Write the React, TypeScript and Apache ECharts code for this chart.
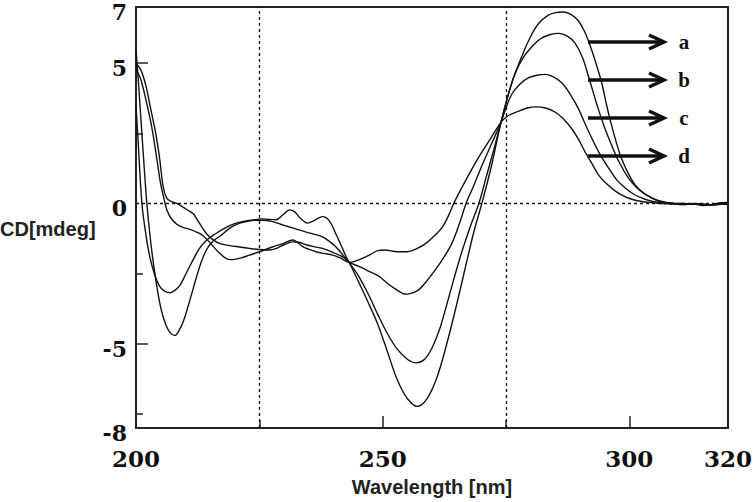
import { useEffect, useRef } from 'react';
import * as echarts from 'echarts';

// Wavelength (nm) / CD (mdeg) pairs
const seriesA: [number, number][] = [
  [200, 5.47], [200.5, 4.3], [201, 3.0], [201.5, 1.7], [202.2, 0.0], [203, -1.4], [204, -2.7], [205, -3.7],
  [206, -4.3], [207, -4.62], [207.9, -4.7], [208.8, -4.5], [209.6, -4.2], [210.5, -3.7], [211.4, -3.15],
  [212.3, -2.6], [213.3, -2.05], [214.3, -1.65], [215.3, -1.4], [216.3, -1.25], [217.5, -1.1], [219, -0.88],
  [221, -0.7], [223, -0.62], [225.7, -0.55], [228.4, -0.58], [229.8, -0.4], [231.1, -0.23], [232.2, -0.3],
  [233.1, -0.49], [234.8, -0.7], [236.2, -0.6], [237.8, -0.47], [239.2, -0.62], [240.5, -1.08], [241.6, -1.5],
  [242.6, -1.9], [243.3, -2.13], [245, -2.75], [247, -3.5], [249, -4.3], [251, -5.3], [253, -6.3], [255, -6.95],
  [257, -7.23], [259, -6.95], [261, -6.2], [263, -5.0], [265, -3.6], [267, -2.1], [268.5, -1.0], [270.1, 0.0],
  [272, 1.3], [274, 2.9], [276, 4.2], [278.2, 5.24], [280, 5.95], [281.6, 6.41], [283.5, 6.7], [285, 6.8],
  [286.7, 6.82], [288.3, 6.72], [289.7, 6.5], [291, 6.1], [292.3, 5.5], [293.4, 4.9], [294.4, 4.3], [295.4, 3.5],
  [296.4, 2.78], [297.4, 2.15], [298.4, 1.61], [299.7, 1.1], [301.1, 0.68], [302.8, 0.38], [304.5, 0.2],
  [306, 0.08], [307.5, 0.03], [309, 0.01], [311, -0.03], [313, 0.0], [315, -0.06], [317, -0.03], [318.5, 0.03],
  [320, 0.04],
];

const seriesB: [number, number][] = [
  [200, 3.5], [200.4, 2.3], [201.2, 0.0], [202, -1.1], [202.8, -1.9], [203.8, -2.55], [204.8, -2.95],
  [205.8, -3.12], [206.9, -3.18], [208, -3.08], [208.9, -2.92], [210, -2.55], [211, -2.2], [211.6, -2.0],
  [212.8, -1.62], [214.3, -1.31], [216.3, -1.06], [218, -0.88], [220, -0.72], [222, -0.63], [223.5, -0.6],
  [225.7, -0.6], [227.5, -0.64], [229.3, -0.74], [231.1, -0.84], [233, -0.94], [234.5, -1.02], [236.2, -1.1],
  [237.8, -1.19], [239.2, -1.35], [240.5, -1.54], [242, -1.85], [243.3, -2.13], [245, -2.55], [247, -3.2],
  [249, -3.95], [251, -4.65], [253, -5.2], [255, -5.55], [256.8, -5.68], [258.5, -5.55], [260, -5.15],
  [261.5, -4.5], [263, -3.6], [264.5, -2.65], [266, -1.75], [267.8, -0.8], [269.5, 0.0], [271, 0.95],
  [272.5, 1.9], [274, 2.9], [275.5, 3.9], [276.9, 4.66], [278.5, 5.2], [280.3, 5.59], [282, 5.87], [284, 6.02],
  [285.7, 6.06], [287.5, 5.95], [289, 5.71], [290.5, 5.2], [291.7, 4.54], [292.7, 3.95], [293.7, 3.37],
  [295, 2.7], [296.4, 2.08], [298, 1.45], [299.8, 0.91], [301.5, 0.56], [303.2, 0.33], [304.8, 0.18],
  [306, 0.1], [307.5, 0.04], [309, 0.0], [311, -0.04], [313, -0.02], [315, -0.07], [317, -0.04], [319, 0.0],
  [320, -0.02],
];

const seriesC: [number, number][] = [
  [200, 5.0], [201, 4.75], [202, 4.2], [203, 3.35], [204, 2.5], [204.8, 1.6], [205.5, 0.6], [206.2, 0.2],
  [207, 0.08], [208, 0.02], [209, -0.07], [209.6, -0.14], [210.6, -0.25], [211.6, -0.37], [212.5, -0.6],
  [213.4, -0.85], [214.3, -1.08], [215.5, -1.28], [217, -1.43], [219, -1.5], [221, -1.55], [223, -1.6],
  [225, -1.64], [227, -1.66], [228.5, -1.6], [230, -1.47], [231.8, -1.37], [233, -1.38], [234.5, -1.47],
  [236, -1.54], [237.8, -1.6], [240, -1.75], [241.9, -1.9], [243.3, -2.1], [245.3, -2.25], [247, -2.4],
  [249.3, -2.6], [251, -2.85], [252.7, -3.06], [254, -3.2], [255, -3.23], [256.2, -3.18], [257.4, -3.06],
  [259, -2.75], [260.7, -2.36], [262.3, -1.95], [264, -1.43], [265.5, -0.75], [266.9, 0.0], [268.5, 0.65],
  [270, 1.3], [272, 2.1], [274, 2.9], [275, 3.4], [276.2, 3.9], [277.8, 4.25], [279.6, 4.48], [281.3, 4.57],
  [283, 4.6], [284.7, 4.5], [286.3, 4.3], [288, 3.9], [289.7, 3.37], [291, 2.85], [292.4, 2.32], [294, 1.77],
  [295.8, 1.26], [297.4, 0.85], [299.1, 0.56], [301, 0.32], [303.2, 0.15], [305, 0.06], [307, 0.02],
  [309, -0.02], [311, -0.04], [313, -0.01], [315, -0.05], [317, -0.06], [319, -0.02], [320, -0.04],
];

const seriesD: [number, number][] = [
  [200, 4.8], [201, 4.4], [202, 3.7], [203, 2.9], [203.6, 2.3], [204.3, 1.5], [205, 0.7], [205.9, 0.0],
  [206.2, -0.2], [207, -0.5], [208.2, -0.73], [209.5, -0.85], [210.9, -0.92], [212.3, -1.02], [213.6, -1.15],
  [215, -1.4], [216, -1.6], [217, -1.78], [218, -1.93], [219, -2.0], [220, -1.99], [221.5, -1.93], [223, -1.84],
  [225, -1.72], [227.5, -1.56], [229.8, -1.43], [231.8, -1.3], [232.8, -1.4], [233.8, -1.54], [235, -1.63],
  [236.5, -1.72], [238, -1.78], [239.9, -1.84], [241.5, -1.95], [243.3, -2.1], [245.3, -2.0], [247.3, -1.84],
  [249, -1.68], [250.5, -1.66], [252, -1.7], [253.5, -1.72], [255, -1.72], [257, -1.6], [258.7, -1.43],
  [260.5, -1.15], [262.1, -0.84], [263.3, -0.45], [264.4, 0.0], [266, 0.55], [268, 1.2], [270, 1.8],
  [272, 2.35], [274, 2.9], [275.2, 3.1], [276.2, 3.19], [278, 3.32], [279.5, 3.41], [281, 3.44], [283, 3.4],
  [285, 3.25], [286.7, 3.0], [288.3, 2.67], [289.7, 2.28], [291, 1.85], [292.4, 1.43], [293.7, 1.03],
  [295.4, 0.7], [297.1, 0.45], [298.8, 0.27], [300.5, 0.15], [302.5, 0.07], [304.5, 0.03], [306.5, 0.0],
  [308.5, -0.02], [310.5, 0.01], [312.5, -0.03], [314.5, -0.01], [316.5, -0.05], [318.5, -0.02], [320, 0.0],
];

const seriesNames = ['a', 'b', 'c', 'd'];
const allSeries = [seriesA, seriesB, seriesC, seriesD];

const xLabelValues = [200, 250, 300, 320];
const xMajorTicks = [250, 300];
const xMinorTicks = [225, 275];
const yLabelValues = [7, 5, 0, -5, -8];
const yMajorTicks = [5, -5];
const yMinorTicks = [2.5, -2.5, -7.5];
const refLinesX = [225, 275];
const refLinesY = [0];

const TICK_FONT = 'DejaVu Serif';
const TITLE_FONT = 'Liberation Sans';

function buildOption() {
  const tickLabelStyle = {
    fontFamily: TICK_FONT,
    fontWeight: 'bold' as const,
    fontSize: 22,
    color: '#111',
  };
  const arrowTop = 42;
  const arrowStep = 38;
  const arrowX0 = 588;
  const arrowX1 = 664;
  const graphics: any[] = [];
  seriesNames.forEach((name, i) => {
    const y = arrowTop + i * arrowStep;
    graphics.push({
      type: 'line',
      shape: { x1: arrowX0, y1: y, x2: arrowX1 - 1, y2: y },
      style: { stroke: '#111', lineWidth: 3.5 },
    });
    graphics.push({
      type: 'polyline',
      shape: { points: [[arrowX1 - 15, y - 7], [arrowX1, y], [arrowX1 - 15, y + 7]] },
      style: { stroke: '#111', lineWidth: 3.5, fill: 'none', lineJoin: 'miter' },
    });
    graphics.push({
      type: 'text',
      x: 684,
      y: y,
      style: {
        text: name,
        font: 'bold 21px "Liberation Serif"',
        fill: '#111',
        align: 'center',
        verticalAlign: 'middle',
      },
    });
  });
  graphics.push({
    type: 'text',
    left: 0,
    top: 219,
    style: { text: 'CD[mdeg]', font: `bold 20px "${TITLE_FONT}"`, fill: '#222' },
  });

  const dotted = { color: '#111', width: 1.3, type: [3, 3] as any };

  return {
    animation: false,
    backgroundColor: '#fff',
    grid: {
      left: 136,
      right: 25,
      top: 7,
      bottom: 69,
      show: true,
      borderColor: '#222',
      borderWidth: 2,
      backgroundColor: 'transparent',
    },
    xAxis: [
      {
        type: 'value',
        min: 200,
        max: 320,
        interval: 10,
        position: 'bottom',
        axisLine: { show: true, onZero: false, lineStyle: { color: '#222', width: 2 } },
        axisTick: { show: true, inside: true, length: 12, customValues: xMajorTicks, lineStyle: { color: '#222', width: 1.5 } },
        axisLabel: { show: true, margin: 19, customValues: xLabelValues, ...tickLabelStyle, fontSize: 23 },
        splitLine: { show: false },
        name: 'Wavelength [nm]',
        nameLocation: 'middle',
        nameGap: 49,
        nameTextStyle: { fontFamily: TITLE_FONT, fontWeight: 'bold', fontSize: 20, color: '#222' },
      },
      {
        type: 'value',
        min: 200,
        max: 320,
        interval: 5,
        position: 'bottom',
        axisLine: { show: false, onZero: false },
        axisTick: { show: true, inside: true, length: 8, customValues: xMinorTicks, lineStyle: { color: '#222', width: 1.5 } },
        axisLabel: { show: false },
        splitLine: { show: false },
      },
    ],
    yAxis: [
      {
        type: 'value',
        min: -8,
        max: 7,
        interval: 1,
        position: 'left',
        axisLine: { show: true, onZero: false, lineStyle: { color: '#222', width: 2 } },
        axisTick: { show: true, inside: true, length: 12, customValues: yMajorTicks, lineStyle: { color: '#222', width: 1.5 } },
        axisLabel: {
          show: true,
          margin: 9,
          verticalAlign: 'top',
          lineHeight: 10,
          customValues: yLabelValues,
          ...tickLabelStyle,
        },
        splitLine: { show: false },
      },
      {
        type: 'value',
        min: -8,
        max: 7,
        interval: 0.5,
        position: 'left',
        axisLine: { show: false, onZero: false },
        axisTick: { show: true, inside: true, length: 7, customValues: yMinorTicks, lineStyle: { color: '#222', width: 1.5 } },
        axisLabel: { show: false },
        splitLine: { show: false },
      },
    ],
    series: allSeries.map((data, i) => ({
      name: seriesNames[i],
      type: 'line',
      xAxisIndex: 0,
      yAxisIndex: 0,
      data,
      showSymbol: false,
      smooth: 0.35,
      silent: true,
      lineStyle: { color: '#111', width: 1.4 },
      markLine:
        i === 0
          ? {
              silent: true,
              symbol: ['none', 'none'],
              label: { show: false },
              lineStyle: dotted,
              data: [
                ...refLinesX.map((v) => ({ xAxis: v })),
                ...refLinesY.map((v) => ({ yAxis: v })),
              ],
            }
          : undefined,
    })),
    graphic: graphics,
  };
}

export default function App() {
  const ref = useRef<HTMLDivElement>(null);
  useEffect(() => {
    if (!ref.current) return;
    const chart = echarts.init(ref.current, null, { renderer: 'svg' });
    chart.setOption(buildOption() as any);
    return () => chart.dispose();
  }, []);
  return (
    <div
      ref={ref}
      style={{ position: 'fixed', left: 0, top: 0, width: 755, height: 502, background: '#fff' }}
    />
  );
}
